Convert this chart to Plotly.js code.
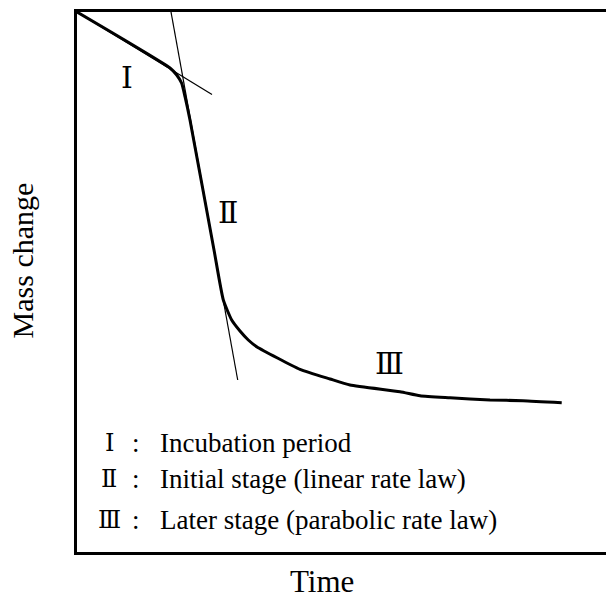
<!DOCTYPE html>
<html>
<head>
<meta charset="utf-8">
<script src="https://cdn.plot.ly/plotly-3.0.1.min.js"></script>
<style>html,body{margin:0;padding:0;background:#fff;}#chart{width:606px;height:599px;}</style>
</head>
<body>
<div id="chart"></div>
<script>
// Main mass-change curve (schematic, arbitrary units 0-100)
var timeVals = [0, 17.58, 18.85, 19.79, 20.42, 21.36, 25.90, 27.66, 29.24, 30.81, 32.38, 33.97, 42.15, 47.83, 51.61, 61.06, 64.84, 70.51, 78.07, 84.31, 91.63];
var massVals = [100, 89.63, 88.33, 86.80, 84.31, 80.0, 55.93, 46.67, 42.96, 40.93, 39.26, 38.02, 33.83, 32.04, 30.93, 29.69, 28.94, 28.57, 28.15, 28.02, 27.65];
// Tangent lines
var tangent1Time = [0, 25.52];
var tangent1Mass = [100, 84.72];
var tangent2Time = [17.77, 30.38];
var tangent2Mass = [100, 31.85];
// Stage labels
var stageLabels = ["Ⅰ", "Ⅱ", "Ⅲ"];
var stageX = [9.39, 28.45, 58.98];
var stageY = [87.87, 62.87, 35.0];
// Legend rows
var legendNumerals = ["Ⅰ", "Ⅱ", "Ⅲ"];
var legendTexts = ["Incubation period", "Initial stage (linear rate law)", "Later stage (parabolic rate law)"];
var legendY = [20.13, 13.61, 5.93];

var serif = "Liberation Serif, Times New Roman, DejaVu Serif, serif";
var numFont = "DejaVu Serif, Liberation Serif, serif";

var traces = [
  {x: tangent1Time, y: tangent1Mass, mode: "lines", line: {color: "#000", width: 1.2}, hoverinfo: "skip"},
  {x: tangent2Time, y: tangent2Mass, mode: "lines", line: {color: "#000", width: 1.2}, hoverinfo: "skip"},
  {x: timeVals, y: massVals, mode: "lines", line: {color: "#000", width: 3, shape: "spline", smoothing: 0.5}, hoverinfo: "skip"}
];

var ann = [];
for (var i = 0; i < stageLabels.length; i++) {
  ann.push({x: stageX[i], y: stageY[i], xref: "x", yref: "y", text: stageLabels[i], showarrow: false,
    xanchor: "center", yanchor: "middle", font: {family: numFont, size: 30, color: "#000"}});
}
for (var j = 0; j < legendTexts.length; j++) {
  ann.push({x: 6.05, y: legendY[j], xref: "x", yref: "y", text: legendNumerals[j], showarrow: false,
    xanchor: "center", yanchor: "middle", font: {family: numFont, size: 24, color: "#000"}});
  ann.push({x: 11.15, y: legendY[j], xref: "x", yref: "y", text: ":", showarrow: false,
    xanchor: "center", yanchor: "middle", font: {family: serif, size: 27, color: "#000"}});
  ann.push({x: 15.26, y: legendY[j], xref: "x", yref: "y", text: legendTexts[j], showarrow: false,
    xanchor: "left", yanchor: "middle", font: {family: serif, size: 27, color: "#000"}});
}
ann.push({x: 0.464, y: -0.0546, xref: "paper", yref: "paper", text: "Time", showarrow: false,
  xanchor: "center", yanchor: "middle", font: {family: serif, size: 31, color: "#000"}});
ann.push({x: -0.103, y: 0.539, xref: "paper", yref: "paper", text: "Mass change", showarrow: false, textangle: -90,
  xanchor: "center", yanchor: "middle", font: {family: serif, size: 30, color: "#000"}});

var layout = {
  width: 606, height: 599,
  margin: {l: 77, r: 0, t: 12, b: 47, pad: 0},
  paper_bgcolor: "#fff", plot_bgcolor: "#fff",
  showlegend: false,
  xaxis: {range: [0, 100], showgrid: false, zeroline: false, showticklabels: false, ticks: "",
    showline: true, mirror: true, linecolor: "#000", linewidth: 3, fixedrange: true},
  yaxis: {range: [0, 100], showgrid: false, zeroline: false, showticklabels: false, ticks: "",
    showline: true, mirror: false, linecolor: "#000", linewidth: 3, fixedrange: true},
  annotations: ann
};
Plotly.newPlot("chart", traces, layout, {displayModeBar: false, staticPlot: true});
</script>
</body>
</html>
